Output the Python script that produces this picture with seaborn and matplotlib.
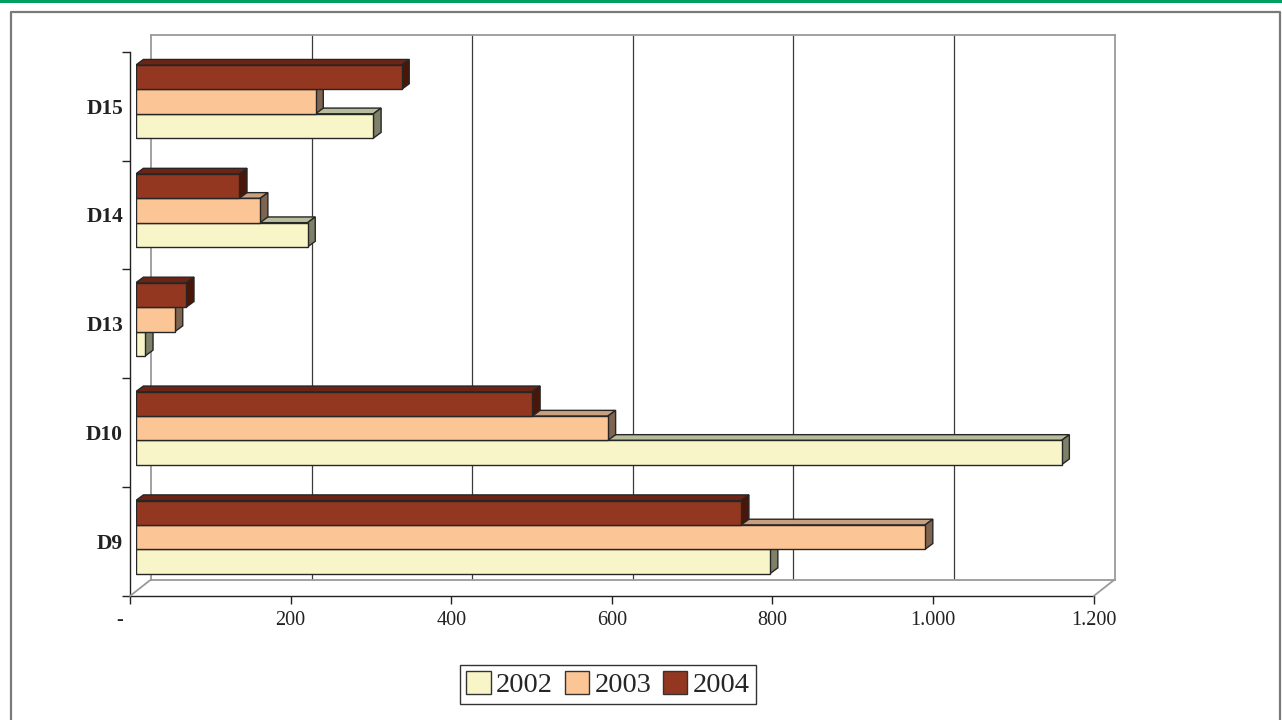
import numpy as np
import pandas as pd
import matplotlib
matplotlib.use("Agg")
import matplotlib.pyplot as plt
from matplotlib.patches import Polygon, Patch, Rectangle
from matplotlib.lines import Line2D
import seaborn as sns

# ---- data -------------------------------------------------------------
categories = ["D15", "D14", "D13", "D10", "D9"]
years = ["2002", "2003", "2004"]
values_2002 = [296, 214, 12, 1153, 790]
values_2003 = [224, 155, 49, 588, 983]
values_2004 = [331, 129, 63, 494, 754]
x_ticks = [0, 200, 400, 600, 800, 1000, 1200]
x_tick_labels = ["-    ", "200", "400", "600", "800", "1.000", "1.200"]

front_colors = {"2002": "#F8F6C8", "2003": "#FCC595", "2004": "#943720"}
top_colors = {"2002": "#B9BC9C", "2003": "#C9A07F", "2004": "#6E2414"}
side_colors = {"2002": "#7F8068", "2003": "#7F6450", "2004": "#4A1608"}
edge = "#262626"

df = pd.DataFrame({
    "category": categories * 3,
    "year": [y for y in years for _ in categories],
    "value": values_2002 + values_2003 + values_2004,
})

sns.set_style("white")
plt.rcParams["font.family"] = ["Liberation Serif", "DejaVu Serif"]

W, H, DPI = 1282, 720, 100
fig = plt.figure(figsize=(W / DPI, H / DPI), dpi=DPI)

# plot box of the front plane, in pixels
L, R, T, B = 130.0, 1093.7, 51.7, 596.0
def box(dx, dy):
    return [(L + dx) / W, (H - B + dy) / H, (R - L) / W, (B - T) / H]

DEPTH = (21.0, 16.5)        # back wall offset (px right, px up)
BAR_OFF = (5.7, 4.5)        # bar front faces offset
BAR_DEPTH = (7.7, 5.7)      # depth of each bar

ax_back = fig.add_axes(box(*DEPTH), zorder=0)
ax_front = fig.add_axes(box(0, 0), zorder=1)
ax_bar = fig.add_axes(box(*BAR_OFF), zorder=2)

ylim = (len(categories) - 0.5, -0.5)
for ax in (ax_back, ax_front, ax_bar):
    ax.set_xlim(0, 1200)
    ax.set_ylim(*ylim)

# ---- back wall --------------------------------------------------------
ax_back.set_facecolor("white")
for s in ax_back.spines.values():
    s.set_color("#9a9a9a")
    s.set_linewidth(1.3)
ax_back.set_xticks([])
ax_back.set_yticks([])
for xv in x_ticks[1:-1]:
    ax_back.axvline(xv, color="#3a3a3a", lw=0.9)

# ---- front axes -------------------------------------------------------
ax_front.patch.set_alpha(0)
for side in ("top", "right"):
    ax_front.spines[side].set_visible(False)
for side in ("left", "bottom"):
    ax_front.spines[side].set_color("#222222")
    ax_front.spines[side].set_linewidth(1.0)
ax_front.set_xticks(x_ticks)
ax_front.set_xticklabels(x_tick_labels, fontsize=14.5, color="#222222")
ax_front.tick_params(axis="x", bottom=True, direction="out", length=5.5,
                     width=1.0, color="#222222", pad=5)
ax_front.set_yticks(np.arange(len(categories) + 1) - 0.5)
ax_front.set_yticklabels([])
ax_front.tick_params(axis="y", which="major", left=True, direction="out",
                     length=5.8, width=1.0, color="#222222")
ax_front.set_yticks(np.arange(len(categories)), minor=True)
ax_front.set_yticklabels(categories, minor=True, fontsize=15.5,
                         fontweight="bold", color="#222222")
ax_front.tick_params(axis="y", which="minor", left=True, length=0, pad=5)

# floor diagonals joining the front axis to the back wall
for ax_x in (0, 1):
    p0 = fig.transFigure.inverted().transform(ax_front.transAxes.transform((ax_x, 0)))
    p1 = fig.transFigure.inverted().transform(ax_back.transAxes.transform((ax_x, 0)))
    fig.add_artist(Line2D([p0[0], p1[0]], [p0[1], p1[1]],
                          transform=fig.transFigure, color="#9a9a9a", lw=1.3))

# ---- bars -------------------------------------------------------------
hue_order = ["2004", "2003", "2002"]
sns.barplot(data=df, x="value", y="category", hue="year", order=categories,
            hue_order=hue_order, palette=front_colors, orient="h", width=0.67,
            saturation=1, edgecolor=edge, linewidth=1.0, legend=False,
            ax=ax_bar)
ax_bar.set_xlim(0, 1200)
ax_bar.set_ylim(*ylim)
ax_bar.axis("off")

inv = ax_bar.transData.inverted()
ddx, ddy = BAR_DEPTH
for container, year in zip(ax_bar.containers, hue_order):
    level = years.index(year)
    for rect in container.patches:
        rect.set_zorder(2 + level + 0.5)
        (x0, y0), (x1, y1) = ax_bar.transData.transform(
            rect.get_bbox().get_points())
        xa, xb = min(x0, x1), max(x0, x1)
        ya, yb = min(y0, y1), max(y0, y1)
        top = [(xa, yb), (xb, yb), (xb + ddx, yb + ddy), (xa + ddx, yb + ddy)]
        side = [(xb, ya), (xb + ddx, ya + ddy), (xb + ddx, yb + ddy), (xb, yb)]
        for pts, col in ((top, top_colors[year]), (side, side_colors[year])):
            ax_bar.add_patch(Polygon(inv.transform(pts), closed=True,
                                     facecolor=col, edgecolor=edge, lw=1.0,
                                     joinstyle="miter", zorder=2 + level))

# ---- legend -----------------------------------------------------------
handles = [Patch(facecolor=front_colors[y], edgecolor="#333333", lw=1.0)
           for y in years]
leg = fig.legend(handles, years, loc="center",
                 bbox_to_anchor=(608 / W, 1 - 684.5 / H), ncol=3,
                 fontsize=20.5, frameon=True, fancybox=False,
                 edgecolor="#333333", framealpha=1, handlelength=0.85,
                 handleheight=0.85, handletextpad=0.2, columnspacing=0.4,
                 borderpad=0.22, borderaxespad=0)
leg.get_frame().set_linewidth(1.0)

# ---- page decoration ---------------------------------------------------
fig.add_artist(Rectangle((0, 1 - 3 / H), 1, 3 / H, transform=fig.transFigure,
                         facecolor="#009F5F", edgecolor="none"))
fx0, fx1, fy0 = 10.5 / W, 1280 / W, 1 - 11.5 / H
fig.add_artist(Line2D([fx0, fx0, fx1, fx1], [0, fy0, fy0, 0],
                      transform=fig.transFigure, color="#7a7a7a", lw=1.6))

fig.savefig("out.png", dpi=DPI)
